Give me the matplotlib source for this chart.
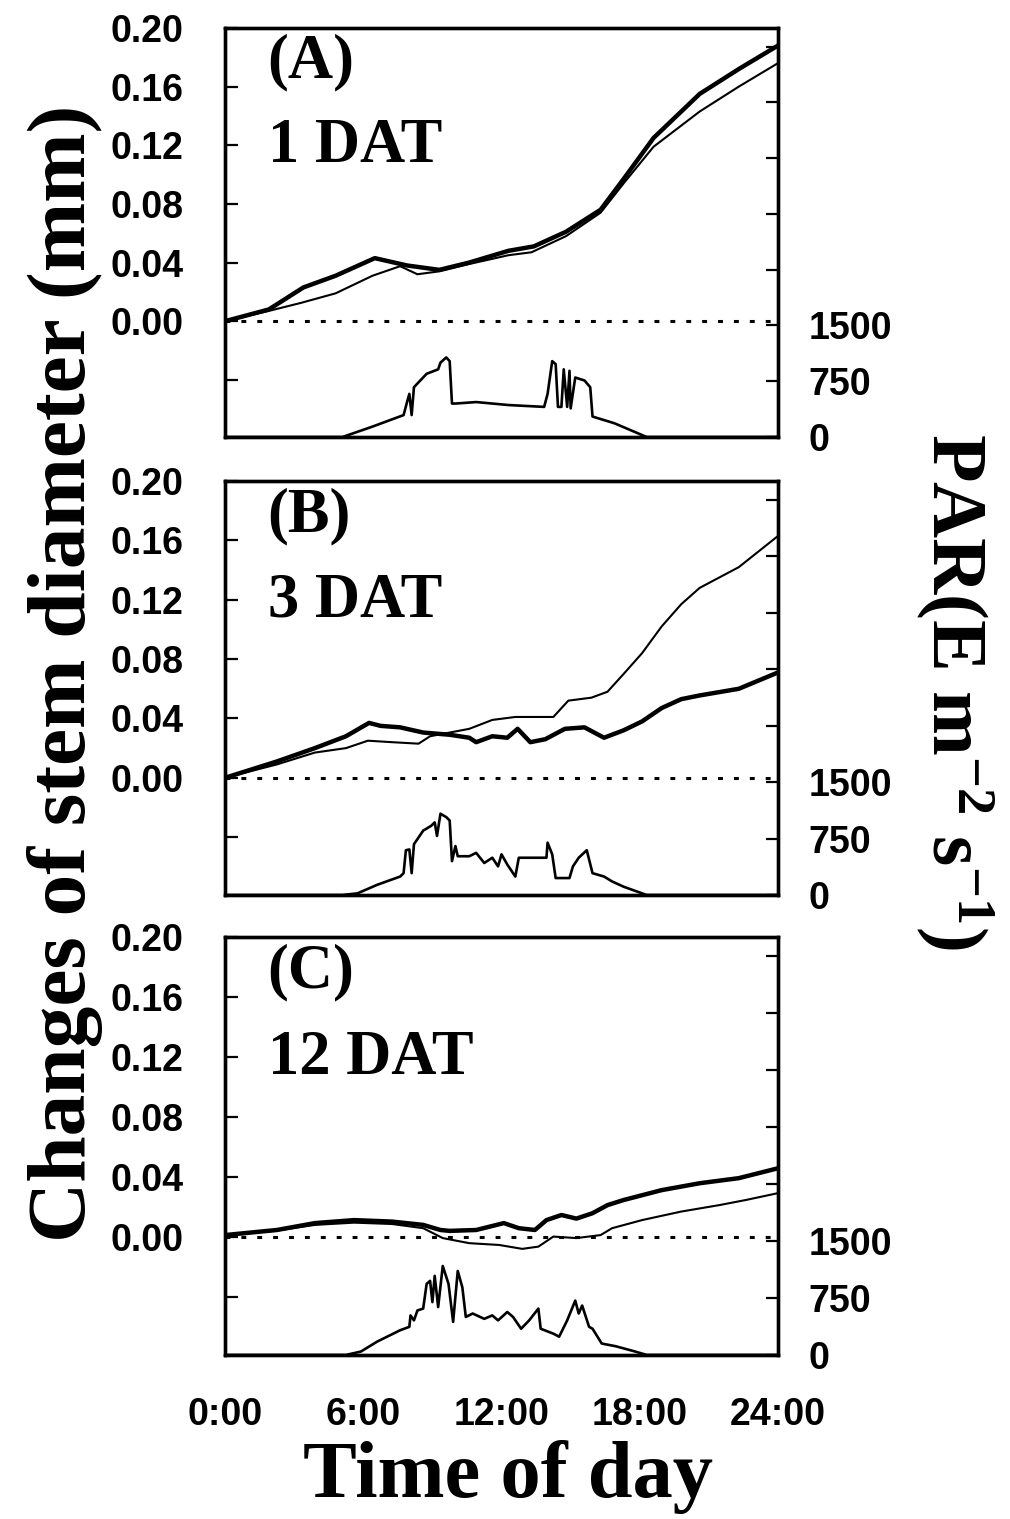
import matplotlib.pyplot as plt
import numpy as np

plt.rcParams['font.family'] = ['Liberation Sans', 'DejaVu Sans']
plt.rcParams['mathtext.fontset'] = 'custom'
plt.rcParams['mathtext.rm'] = 'Liberation Serif:bold'
plt.rcParams['mathtext.it'] = 'Liberation Serif:bold'
plt.rcParams['mathtext.bf'] = 'Liberation Serif:bold'

# ---- data (time in hours, diameter change in mm, PAR) ----
# panel A, 1 DAT
a_thick_t = [0.0, 1.9, 3.4, 4.8, 6.5, 7.9, 9.3, 10.6, 12.3, 13.4, 14.8, 16.3, 17.3, 18.6, 20.6, 22.3, 24.0]
a_thick_d = [0.0, 0.008, 0.023, 0.031, 0.043, 0.038, 0.035, 0.040, 0.048, 0.051, 0.061, 0.076, 0.097, 0.125, 0.155, 0.172, 0.188]
a_thin_t = [0.0, 1.9, 3.3, 4.8, 6.4, 7.6, 8.35, 9.3, 10.6, 12.3, 13.3, 14.8, 16.3, 17.3, 18.6, 20.6, 22.3, 24.0]
a_thin_d = [0.0, 0.007, 0.0125, 0.019, 0.031, 0.0375, 0.032, 0.034, 0.039, 0.045, 0.047, 0.058, 0.074, 0.094, 0.119, 0.143, 0.160, 0.176]
a_par_t = [0.0, 5.1, 6.4, 7.75, 7.9, 8.0, 8.1, 8.2, 8.75, 9.25, 9.35, 9.6, 9.75, 9.85, 10.0, 10.9,
           12.3, 13.85, 14.0, 14.2, 14.35, 14.45, 14.6, 14.7, 14.85, 14.95, 15.0, 15.2, 15.6, 15.85,
           15.95, 16.9, 18.3, 24.0]
a_par_v = [0, 0, 140, 295, 470, 580, 295, 670, 850, 910, 1000, 1070, 1020, 450, 450, 470,
           430, 405, 580, 1020, 980, 405, 405, 910, 405, 890, 385, 800, 760, 670,
           275, 185, 0, 0]

# panel B, 3 DAT
b_thick_t = [0.0, 2.25, 3.9, 5.25, 6.25, 6.75, 7.6, 8.6, 9.75, 10.6, 10.9, 11.6, 12.25, 12.7, 13.25,
             13.9, 14.75, 15.6, 16.45, 17.3, 18.1, 18.95, 19.8, 20.6, 22.3, 24.0]
b_thick_d = [0.0, 0.011, 0.020, 0.028, 0.037, 0.035, 0.034, 0.0305, 0.029, 0.027, 0.024, 0.028, 0.027,
             0.033, 0.024, 0.026, 0.033, 0.034, 0.027, 0.032, 0.038, 0.047, 0.053, 0.0555, 0.060, 0.071]
b_thin_t = [0.0, 2.25, 3.9, 5.25, 6.2, 7.25, 8.4, 8.9, 9.75, 10.6, 11.6, 12.6, 13.6, 14.25, 14.9,
            15.9, 16.6, 17.3, 18.1, 18.95, 19.8, 20.6, 22.3, 24.0]
b_thin_d = [0.0, 0.009, 0.017, 0.020, 0.025, 0.024, 0.023, 0.028, 0.0305, 0.033, 0.039, 0.041, 0.041,
            0.041, 0.052, 0.054, 0.058, 0.070, 0.084, 0.102, 0.117, 0.128, 0.142, 0.163]
b_par_t = [0.0, 5.1, 5.75, 6.6, 7.6, 7.75, 7.85, 8.0, 8.1, 8.2, 8.6, 8.95, 9.1, 9.2, 9.35, 9.6, 9.75,
           9.85, 10.0, 10.1, 10.6, 10.9, 11.25, 11.6, 11.85, 12.0, 12.25, 12.6, 12.75, 13.95, 14.0,
           14.2, 14.35, 14.95, 15.1, 15.35, 15.7, 15.95, 16.45, 16.8, 17.3, 18.3, 24.0]
b_par_v = [0, 0, 22, 135, 245, 290, 595, 605, 290, 675, 855, 920, 965, 785, 1080, 1035, 990,
           450, 650, 515, 515, 560, 425, 495, 380, 540, 405, 245, 495, 495, 695,
           540, 225, 225, 380, 495, 595, 290, 245, 180, 110, 0, 0]

# panel C, 12 DAT
c_thick_t = [0.0, 2.25, 3.9, 5.6, 7.25, 8.6, 9.35, 9.75, 10.9, 12.1, 12.75, 13.45, 13.95, 14.6,
             15.25, 15.95, 16.6, 17.3, 18.95, 20.6, 22.3, 24.0]
c_thick_d = [0.001, 0.0044, 0.009, 0.011, 0.010, 0.0078, 0.0044, 0.0038, 0.0044, 0.009, 0.0056,
             0.0044, 0.011, 0.0144, 0.012, 0.0156, 0.021, 0.0244, 0.031, 0.0356, 0.039, 0.0456]
c_thin_t = [0.0, 2.25, 3.9, 5.6, 7.25, 8.6, 9.45, 10.6, 11.9, 12.9, 13.6, 14.25, 15.25, 16.3,
            16.8, 18.1, 19.8, 21.45, 22.6, 24.0]
c_thin_d = [0.001, 0.004, 0.0078, 0.0093, 0.0084, 0.0056, -0.001, -0.0044, -0.0056, -0.0082,
            -0.0067, 0.0, -0.001, 0.001, 0.0056, 0.011, 0.0167, 0.021, 0.0244, 0.029]
c_par_t = [0.0, 5.25, 5.9, 6.6, 7.6, 8.0, 8.05, 8.2, 8.35, 8.6, 8.75, 8.9, 9.0, 9.1, 9.25, 9.45,
           9.7, 9.9, 10.1, 10.3, 10.45, 10.75, 11.25, 11.6, 11.85, 12.25, 12.5, 12.85, 13.2, 13.6,
           13.7, 14.25, 14.5, 14.85, 15.2, 15.35, 15.5, 15.8, 15.95, 16.35, 16.95, 17.8, 18.3, 24.0]
c_par_v = [0, 0, 45, 175, 325, 370, 520, 455, 585, 610, 935, 975, 695, 1040, 630, 1170,
           935, 435, 1105, 890, 500, 545, 475, 520, 455, 565, 500, 345, 455, 610,
           345, 280, 240, 455, 715, 545, 650, 370, 345, 150, 115, 45, 0, 0]

panel_tags = ["(A)", "(B)", "(C)"]
panel_days = ["1 DAT", "3 DAT", "12 DAT"]
thick_t = [a_thick_t, b_thick_t, c_thick_t]
thick_d = [a_thick_d, b_thick_d, c_thick_d]
thin_t = [a_thin_t, b_thin_t, c_thin_t]
thin_d = [a_thin_d, b_thin_d, c_thin_d]
par_t = [a_par_t, b_par_t, c_par_t]
par_v = [a_par_v, b_par_v, c_par_v]

hour_ticks = [0, 6, 12, 18, 24]
hour_labels = ["0:00", "6:00", "12:00", "18:00", "24:00"]

fig = plt.figure(figsize=(10.10, 15.19), dpi=100)

# axes rectangles in figure fractions (left, bottom, width, height)
rects = [(0.2228, 0.7123, 0.5475, 0.2693),
         (0.2228, 0.4108, 0.5475, 0.2725),
         (0.2228, 0.1080, 0.5475, 0.2752)]

for i in range(3):
    ax = fig.add_axes(rects[i])
    ax.plot(thick_t[i], thick_d[i], color='black', lw=3.2, solid_joinstyle='round')
    ax.plot(thin_t[i], thin_d[i], color='black', lw=1.5)
    ax.axhline(0, color='black', lw=2.2, linestyle=(0, (1.6, 3.6)))
    ax.set_xlim(0, 24)
    ax.set_ylim(-0.079, 0.20)
    ax.set_yticks(np.arange(-0.04, 0.201, 0.04))
    ax.set_yticklabels([''] + ['%.2f' % v for v in np.arange(0.0, 0.201, 0.04)])
    ax.tick_params(axis='y', direction='in', length=9, width=1.6, pad=30,
                   labelsize=27)
    for lab in ax.get_yticklabels():
        lab.set_fontweight('bold')
    ax.set_xticks(hour_ticks)
    if i == 2:
        ax.set_xticklabels(hour_labels, fontsize=27, fontweight='bold')
    else:
        ax.set_xticklabels([])
    ax.tick_params(axis='x', length=0, pad=30)
    for sp in ax.spines.values():
        sp.set_linewidth(2.4)

    ax2 = ax.twinx()
    ax2.plot(par_t[i], par_v[i], color='black', lw=1.9)
    ax2.set_ylim(0, 5500)
    ax2.set_yticks(np.arange(0, 5251, 750))
    ax2.set_yticklabels(['0', '750', '1500'] + [''] * 5, fontsize=27, fontweight='bold')
    ax2.tick_params(axis='y', direction='in', length=9, width=1.6, pad=22)
    for sp in ax2.spines.values():
        sp.set_linewidth(2.4)

    ax.text(0.076, 0.878, panel_tags[i], transform=ax.transAxes, fontsize=45,
            fontweight='bold', family='Liberation Serif', va='baseline')
    ax.text(0.078, 0.672, panel_days[i], transform=ax.transAxes, fontsize=45,
            fontweight='bold', family='Liberation Serif', va='baseline')

fig.text(0.064, 0.557, "Changes of stem diameter (mm)", rotation=90, fontsize=60,
         fontweight='bold', family='Liberation Serif', ha='center', va='center')
fig.text(0.945, 0.545, r"PAR(E m$^{-2}$ s$^{-1}$)", rotation=-90, fontsize=56,
         fontweight='bold', family='Liberation Serif', ha='center', va='center')
fig.text(0.503, 0.0145, "Time of day", fontsize=58, fontweight='bold',
         family='Liberation Serif', ha='center', va='baseline')

fig.savefig("out.png", dpi=100)
